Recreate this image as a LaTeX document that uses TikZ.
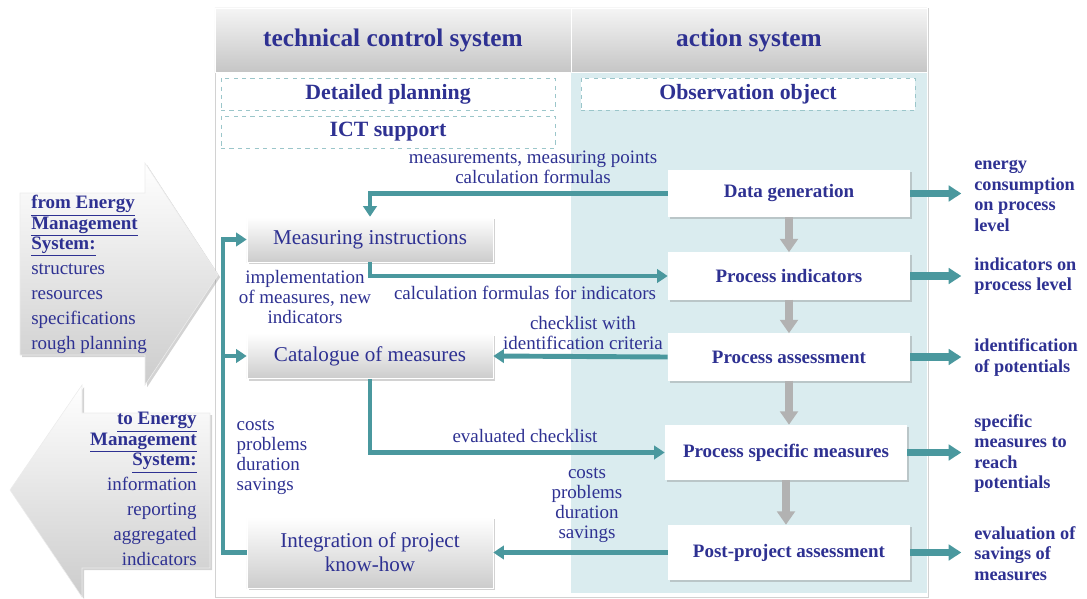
\documentclass[tikz,border=0pt]{standalone}
\usepackage{fontspec}
\setmainfont{Liberation Serif}
\usetikzlibrary{arrows.meta,shadows}
\definecolor{ink}{RGB}{46,49,146}
\definecolor{tealc}{RGB}{74,152,158}
\definecolor{paleblue}{RGB}{218,236,239}
\begin{document}
\begin{tikzpicture}[x=0.025cm,y=-0.025cm,
    shd/.style={drop shadow={shadow xshift=1.5pt,shadow yshift=-1.5pt,opacity=0.35}},
    hdr/.style={top color=gray!8,bottom color=gray!45,draw=white,minimum width=8.9cm,minimum height=1.6cm,
        text=ink,font=\fontsize{18}{20}\selectfont\bfseries},
    dbox/.style={draw=tealc!55,dashed,fill=white,minimum width=8.35cm,minimum height=0.8cm,
        text=ink,font=\fontsize{15.5}{17}\selectfont\bfseries},
    plan/.style={shd,top color=white,bottom color=gray!40,draw=white,minimum width=6.15cm,
        minimum height=1.125cm,align=center,text=ink,font=\fontsize{15}{17}\selectfont},
    obj/.style={shd,fill=white,minimum width=6.05cm,minimum height=1.175cm,
        text=ink,font=\fontsize{13.5}{15}\selectfont\bfseries},
    lbl/.style={align=center,inner sep=1pt,text=ink,font=\fontsize{13.5}{14.2}\selectfont},
    res/.style={anchor=west,align=left,inner sep=0pt,text=ink,font=\fontsize{13}{14.6}\selectfont\bfseries},
    flow/.style={tealc,line width=3.5pt,-{Triangle[width=9.5pt,length=7.5pt]}},
    outflow/.style={tealc,line width=5pt,-{Triangle[width=11pt,length=9pt]},shorten >=9pt},
    seq/.style={gray!60,line width=5.5pt,-{Triangle[width=12.5pt,length=9.5pt]}},
    bigarrow/.style={shd,top color=white,bottom color=gray!40,draw=gray!15}]
    \useasboundingbox (0,0) rectangle (1087,599);
    % panels
    \fill[white] (215,72) rectangle (571,597);
    \fill[paleblue] (571,72) rectangle (927,593);
    \draw[gray!35] (215,8) rectangle (928,597);
    \node[hdr] (tcs) at (393,40) {technical control system};
    \node[hdr] (act) at (749,40) {action system};
    \node[dbox] (detail) at (388,94) {Detailed planning};
    \node[dbox] (ict) at (388,132) {ICT support};
    \node[dbox] (obs) at (748,94) {Observation object};
    % in and out of the energy management system
    \path[bigarrow] (20,193) -- (145,193) -- (145,163) -- (218,275) -- (145,385)
        -- (145,355) -- (20,355) -- cycle;
    \path[bigarrow] (210,413) -- (82,413) -- (82,385) -- (10,490) -- (82,597)
        -- (82,568) -- (210,568) -- cycle;
    \node[anchor=north west,align=left,inner sep=0pt,text=ink,font=\fontsize{13.5}{14.6}\selectfont]
        (fromems) at (31,195) {\textbf{\underline{from Energy}}\\\textbf{\underline{Management}}\\
        \textbf{\underline{System:}}\\[3.2pt]structures\\[3.2pt]resources\\[3.2pt]specifications\\[3.2pt]rough planning};
    \node[anchor=north east,align=right,inner sep=0pt,text=ink,font=\fontsize{13.5}{14.6}\selectfont]
        (toems) at (197,412) {\textbf{\underline{to Energy}}\\\textbf{\underline{Management}}\\
        \textbf{\underline{System:}}\\[3.2pt]information\\[3.2pt]reporting\\[3.2pt]aggregated\\[3.2pt]indicators};
    % technical control system
    \node[plan] (meas) at (370,239.5) {Measuring instructions};
    \node[plan] (cat) at (370,356) {Catalogue of measures};
    \node[plan,minimum height=1.775cm] (integ) at (370,552.5) {Integration of project\\know-how};
    % action system
    \node[obj] (datagen) at (789,193.5) {Data generation};
    \node[obj] (pind) at (789,276) {Process indicators};
    \node[obj] (pass) at (789,357) {Process assessment};
    \node[obj,minimum height=1.375cm] (pspec) at (786,452.5) {Process specific measures};
    \node[obj,minimum height=1.375cm] (post) at (789,552.5) {Post-project assessment};
    \foreach \a/\b in {datagen/pind,pind/pass,pass/pspec,pspec/post}
    \draw[seq] (\a.south) -- (\a.south |- \b.north);
    % results
    \node[res] (rdat) at (974,196) {energy\\consumption\\on process\\level};
    \node[res] (rind) at (974,276) {indicators on\\process level};
    \node[res] (rass) at (974,357.5) {identification\\of potentials};
    \node[res] (rspec) at (974,453.5) {specific\\measures to\\reach\\potentials};
    \node[res] (rpost) at (974,553.5) {evaluation of\\savings of\\measures};
    \foreach \b/\r in {datagen/rdat,pind/rind,pass/rass,pspec/rspec,post/rpost}
    \draw[outflow] (\b.east) -- (\b.east -| \r.west);
    % flows between the two systems
    \draw[flow] (datagen.west) -| (meas.north);
    \draw[flow] (meas.south) |- (pind.west);
    \draw[flow] (pass.west) -- (cat.east);
    \draw[flow] (cat.south) |- (pspec.west);
    \draw[flow] (post.west) -- (integ.east);
    \coordinate (fb) at (223,0);
    \draw[flow] (integ.west) -| (fb |- meas.west) -- (meas.west);
    \draw[flow] (fb |- cat.west) -- (cat.west);
    \node[lbl] (lmeas) at (533,167) {measurements, measuring points\\calculation formulas};
    \node[lbl] (limpl) at (305,297) {implementation\\of measures, new\\indicators};
    \node[lbl] (lcalc) at (525,293) {calculation formulas for indicators};
    \node[lbl] (lcheck) at (583,333) {checklist with\\identification criteria};
    \node[lbl,align=left,anchor=west] (lcost) at (235,457) {costs\\problems\\duration\\savings};
    \node[lbl] (leval) at (525,436) {evaluated checklist};
    \node[lbl] (lcostb) at (587,505) {costs\\problems\\duration\\savings};
\end{tikzpicture}
\end{document}
